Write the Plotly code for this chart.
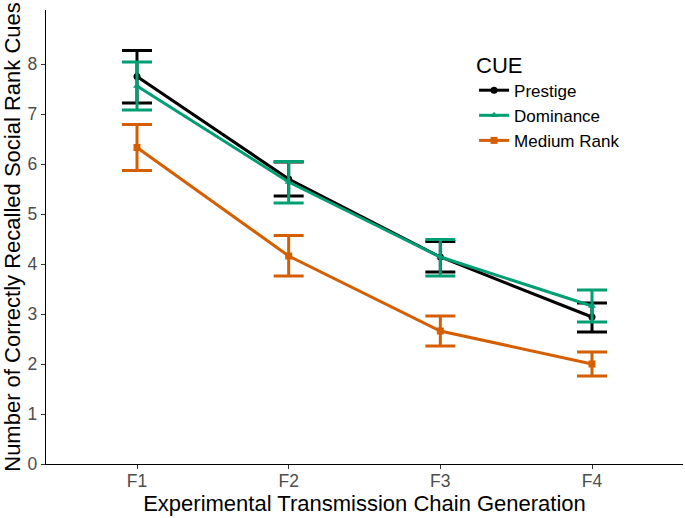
import plotly.graph_objects as go

generations = ["F1", "F2", "F3", "F4"]
cues = ["Prestige", "Dominance", "Medium Rank"]
means = {
    "Prestige": [7.75, 5.70, 4.14, 2.94],
    "Dominance": [7.56, 5.64, 4.14, 3.16],
    "Medium Rank": [6.33, 4.16, 2.66, 2.00],
}
upper = {
    "Prestige": [8.27, 6.04, 4.45, 3.22],
    "Dominance": [8.04, 6.05, 4.49, 3.48],
    "Medium Rank": [6.79, 4.57, 2.96, 2.24],
}
lower = {
    "Prestige": [7.22, 5.36, 3.84, 2.64],
    "Dominance": [7.08, 5.22, 3.76, 2.84],
    "Medium Rank": [5.87, 3.76, 2.36, 1.76],
}
colors = {"Prestige": "#000000", "Dominance": "#009E73", "Medium Rank": "#D55E00"}
symbols = {"Prestige": "circle", "Dominance": "triangle-up", "Medium Rank": "square"}
y_ticks = [0, 1, 2, 3, 4, 5, 6, 7, 8]

fig = go.Figure()
for cue in cues:
    m = means[cue]
    fig.add_trace(go.Scatter(
        x=list(range(len(generations))), y=m, name=cue, mode="lines+markers",
        line=dict(color=colors[cue], width=3),
        marker=dict(symbol=symbols[cue], size=7, color=colors[cue]),
        error_y=dict(type="data", symmetric=False,
                     array=[u - v for u, v in zip(upper[cue], m)],
                     arrayminus=[v - l for v, l in zip(m, lower[cue])],
                     color=colors[cue], thickness=3, width=15),
    ))

fig.update_layout(
    width=685, height=518,
    margin=dict(l=46, r=2, t=10, b=54),
    plot_bgcolor="white", paper_bgcolor="white",
    font=dict(family="Liberation Sans, Arial, sans-serif", color="#000000"),
    showlegend=True,
    legend=dict(
        title=dict(text="CUE", font=dict(size=22)),
        x=0.672, y=0.925, xanchor="left", yanchor="top",
        font=dict(size=17), itemwidth=30, tracegroupgap=0,
        bgcolor="rgba(0,0,0,0)",
    ),
    xaxis=dict(
        range=[-0.6, 3.6], tickmode="array",
        tickvals=list(range(len(generations))), ticktext=generations,
        showline=True, linecolor="black", linewidth=1.3,
        ticks="outside", ticklen=4, tickcolor="#333333", tickwidth=1,
        tickfont=dict(size=17.5, color="#4D4D4D"), ticklabelstandoff=-3,
        showgrid=False, zeroline=False, automargin=False,
        title=dict(text="Experimental Transmission Chain Generation",
                   font=dict(size=22), standoff=0),
    ),
    yaxis=dict(
        range=[0, 9.08], tickmode="array", tickvals=y_ticks,
        showline=True, linecolor="black", linewidth=1.3,
        ticks="outside", ticklen=4, tickcolor="#333333", tickwidth=1,
        tickfont=dict(size=17.5, color="#4D4D4D"),
        showgrid=False, zeroline=False, automargin=False,
        title=dict(text="Number of Correctly Recalled Social Rank Cues",
                   font=dict(size=22), standoff=2),
    ),
)

fig.write_html("out.html", config={"displayModeBar": False},
               post_script="document.body.style.margin='0';")
